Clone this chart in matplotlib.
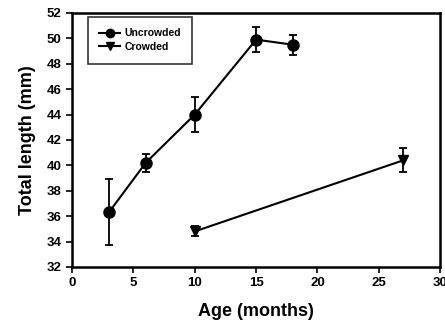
import matplotlib
matplotlib.use("Agg")
import matplotlib.pyplot as plt
from matplotlib.lines import Line2D

unc_x = [3, 6, 10, 15, 18]
unc_y = [36.3, 40.2, 44.0, 49.9, 49.5]
unc_err = [2.6, 0.7, 1.4, 1.0, 0.8]
cr_x = [10, 27]
cr_y = [34.8, 40.4]
cr_err = [0.4, 0.95]

plt.rcParams['font.family'] = ['Liberation Sans', 'DejaVu Sans']
plt.rcParams['font.weight'] = 'bold'

fig = plt.figure(figsize=(4.45, 3.24), dpi=100)
ax = fig.add_axes([0.162, 0.176, 0.827, 0.784])

ax.errorbar(unc_x, unc_y, yerr=unc_err, color='black', marker='o', markersize=8,
            lw=1.5, capsize=3, elinewidth=1.3, capthick=1.3)
ax.errorbar(cr_x, cr_y, yerr=cr_err, color='black', marker='v', markersize=7,
            lw=1.5, capsize=3, elinewidth=1.3, capthick=1.3)

ax.set_xlim(0, 30)
ax.set_ylim(32, 52)
ax.set_xticks(range(0, 31, 5))
ax.set_yticks(range(32, 53, 2))
ax.tick_params(direction='out', length=4, width=1.2, labelsize=9.5, top=False, right=False)
for lab in ax.get_xticklabels() + ax.get_yticklabels():
    lab.set_fontweight('bold')
for s in ax.spines.values():
    s.set_linewidth(1.8)

ax.set_xlabel('Age (months)', fontsize=13, fontweight='bold', labelpad=10)
ax.set_ylabel('Total length (mm)', fontsize=13, fontweight='bold', labelpad=8)

handles = [Line2D([], [], color='black', marker='o', markersize=6, lw=1.5),
           Line2D([], [], color='black', marker='v', markersize=6, lw=1.5)]
leg = ax.legend(handles, ['Uncrowded', 'Crowded'], loc='upper left',
                bbox_to_anchor=(0.043, 0.984), frameon=True, fancybox=False,
                edgecolor='black', borderpad=1.1, handlelength=2.0,
                handletextpad=0.4, borderaxespad=0, labelspacing=0.35,
                prop={'weight': 'bold', 'size': 7.5})
leg.get_frame().set_linewidth(1.2)

fig.savefig('out.png', dpi=100)
